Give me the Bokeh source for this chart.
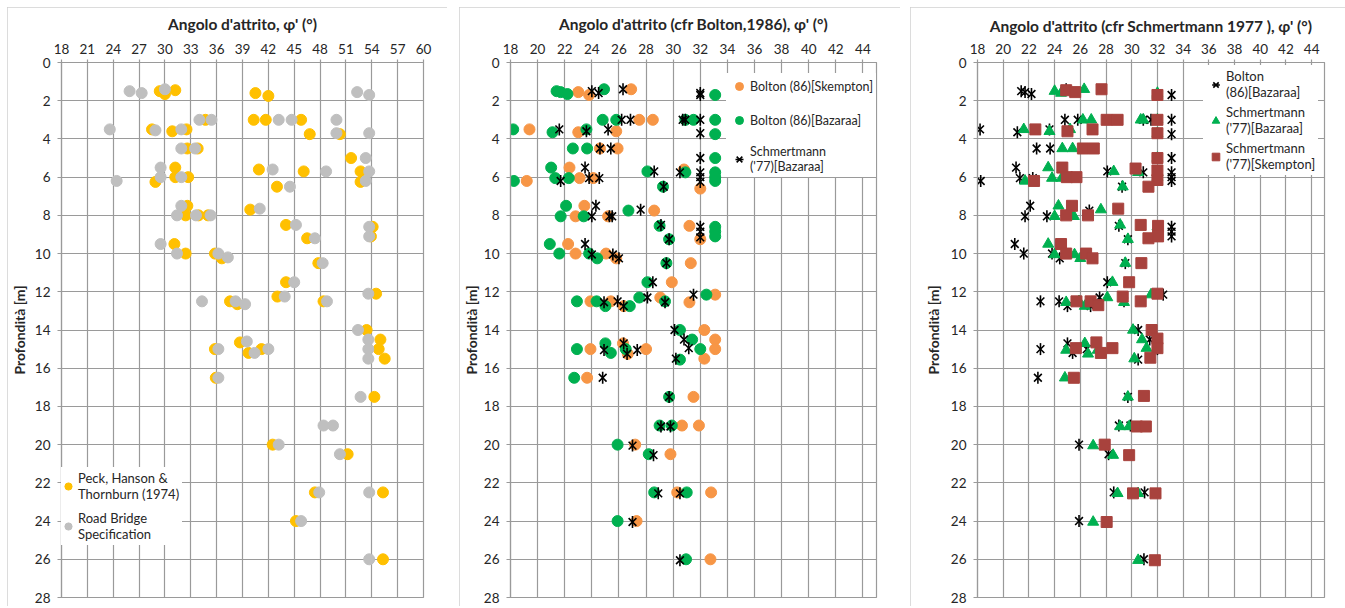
import math
from bokeh.plotting import figure
from bokeh.models import Range1d, FixedTicker, Legend, LegendItem
from bokeh.layouts import row
from bokeh.embed import file_html
from bokeh.resources import INLINE

# ---------------- data: friction angle (deg) vs depth (m) ----------------
depth_ticks = list(range(0, 30, 2))
phi_ticks_1 = list(range(18, 61, 3))
phi_ticks_2 = list(range(18, 45, 2))

peck_phi = [29.4, 30.0, 31.2, 40.5, 42.0,
            34.7, 40.3, 41.7, 45.8,
            28.5, 30.85, 32.5, 46.8, 50.3,
            32.6, 33.8, 51.6,
            31.2, 28.9, 31.2, 32.7, 40.9, 46.1, 52.7, 52.7, 43.0,
            32.6, 39.9, 32.4, 33.9, 35.0,
            44.05, 54.1, 46.5, 53.9, 31.1,
            32.4, 35.8, 36.6, 47.8, 44.05,
            54.5, 37.55, 38.4, 43.05, 48.4,
            53.4, 55.0, 35.8, 38.7, 39.7, 41.2, 54.8, 55.5,
            35.9, 54.3, 42.5, 51.2, 47.4, 55.3, 45.2, 55.3]
peck_z = [1.5, 1.65, 1.45, 1.6, 1.75,
          3.0, 3.0, 3.0, 3.0,
          3.5, 3.6, 3.5, 3.75, 3.75,
          4.5, 4.5, 5.0,
          5.5, 6.25, 6.0, 6.0, 5.6, 5.7, 5.7, 6.25, 6.5,
          7.5, 7.7, 8.0, 8.0, 8.0,
          8.5, 8.6, 9.2, 9.1, 9.5,
          10.0, 10.0, 10.25, 10.5, 11.5,
          12.1, 12.5, 12.65, 12.25, 12.5,
          14.0, 14.5, 15.0, 14.65, 15.2, 15.0, 15.0, 15.5,
          16.5, 17.5, 20.0, 20.5, 22.5, 22.5, 24.0, 26.0]

road_phi = [25.9, 27.3, 30.0, 52.3, 53.7,
            34.0, 35.4, 43.2, 44.7, 49.9,
            23.6, 28.9, 31.9, 49.9, 53.7,
            31.9, 33.5, 53.3,
            29.5, 24.4, 29.5, 31.9, 42.5, 48.7, 53.7, 53.3, 44.5,
            31.9, 41.0, 31.4, 33.6, 35.3,
            45.2, 53.7, 47.4, 53.7, 29.5,
            31.4, 36.2, 37.3, 48.3, 45.0,
            53.6, 34.3, 38.2, 39.3, 43.9, 48.8,
            52.4, 53.6, 36.2, 39.5, 40.4, 42.0, 53.6, 53.6,
            36.2, 52.7, 48.4, 49.5, 43.2, 50.3, 47.9, 53.7, 45.8, 53.7]
road_z = [1.5, 1.6, 1.4, 1.55, 1.7,
          3.0, 3.0, 3.0, 3.0, 3.0,
          3.5, 3.55, 3.5, 3.7, 3.7,
          4.5, 4.5, 5.0,
          5.5, 6.2, 6.0, 6.0, 5.6, 5.7, 5.7, 6.2, 6.5,
          7.5, 7.65, 8.0, 8.0, 8.0,
          8.5, 8.6, 9.2, 9.1, 9.5,
          10.0, 10.0, 10.2, 10.5, 11.5,
          12.1, 12.5, 12.5, 12.65, 12.25, 12.5,
          14.0, 14.5, 15.0, 14.6, 15.2, 15.0, 15.0, 15.5,
          16.5, 17.5, 19.0, 19.0, 20.0, 20.5, 22.5, 22.5, 24.0, 26.0]

# Bolton (86) [Skempton]
bolton_skem_phi = [23.0, 23.8, 26.9, 27.5, 28.5,
                   19.4, 23.0, 25.8, 24.6, 25.9,
                   22.35, 30.8, 19.2, 23.1, 24.1, 32.0,
                   23.45, 28.6, 22.8, 25.2,
                   31.2, 32.0, 22.25, 22.8, 25.05, 25.8,
                   31.3, 29.9, 33.1, 29.05,
                   23.9, 25.4, 26.35, 31.2,
                   32.3, 33.1, 26.3, 23.9, 26.65, 28.0, 33.1, 32.3,
                   23.65, 31.5, 30.65, 31.9, 27.2, 29.8, 30.3, 32.8, 27.3, 32.75]
bolton_skem_z = [1.55, 1.7, 1.4, 3.0, 3.0,
                 3.5, 3.65, 3.6, 4.5, 4.5,
                 5.5, 5.6, 6.2, 6.05, 6.05, 6.6,
                 7.5, 7.75, 8.05, 8.05,
                 8.55, 9.25, 9.5, 10.0, 10.0, 10.25,
                 10.5, 11.5, 12.15, 12.3,
                 12.5, 12.5, 12.75, 12.55,
                 14.0, 14.5, 14.7, 15.0, 15.25, 15.0, 15.0, 15.5,
                 16.5, 17.5, 19.0, 19.0, 20.0, 20.5, 22.5, 22.5, 24.0, 26.0]

# Bolton (86) [Bazaraa]
bolton_baz_phi = [21.4, 21.7, 22.2, 24.9, 33.1,
                  24.8, 25.8, 30.9, 31.5, 33.1,
                  18.2, 21.1, 23.6, 33.1, 22.6, 23.65, 33.1,
                  21.0, 28.1, 30.9, 33.1, 33.1,
                  18.25, 21.3, 22.3, 33.1, 29.25,
                  22.1, 26.7, 21.7, 23.4, 29.0, 33.1, 33.1,
                  29.7, 33.1, 20.9, 21.6, 23.8, 24.4,
                  29.5, 28.1, 32.45, 27.5,
                  22.9, 24.35, 25.0, 26.8, 29.4,
                  30.5, 31.4, 25.0, 22.9, 25.4, 26.5, 32.0, 30.5,
                  22.7, 29.7, 29.0, 29.9, 25.9, 28.2, 28.6, 31.0, 25.9, 30.95]
bolton_baz_z = [1.5, 1.55, 1.65, 1.4, 1.7,
                3.0, 3.0, 3.0, 3.0, 3.0,
                3.5, 3.65, 3.5, 3.75, 4.5, 4.5, 5.0,
                5.5, 5.7, 5.75, 5.75, 6.0,
                6.2, 6.05, 6.05, 6.2, 6.5,
                7.5, 7.75, 8.05, 8.05, 8.55, 8.6, 8.85,
                9.25, 9.1, 9.5, 10.0, 10.0, 10.25,
                10.5, 11.5, 12.15, 12.3,
                12.5, 12.5, 12.75, 12.75, 12.5,
                14.0, 14.5, 14.7, 15.0, 15.2, 15.0, 15.0, 15.55,
                16.5, 17.5, 19.0, 19.0, 20.0, 20.5, 22.5, 22.5, 24.0, 26.0]

# Schmertmann ('77) [Bazaraa]
schm_baz_phi = [24.0, 24.5, 26.3, 32.0, 32.0,
                26.2, 26.85, 30.7, 30.9, 32.0,
                21.6, 23.6, 25.2, 32.0, 24.6, 25.4, 32.0,
                23.5, 28.6, 30.5, 32.0,
                21.7, 23.8, 24.55, 32.0, 32.0, 29.3,
                24.3, 27.6, 24.0, 25.3, 25.5,
                29.1, 32.0, 32.0, 29.7, 32.0, 23.5,
                24.0, 25.55, 26.0, 29.5, 28.5, 31.5, 28.1,
                24.9, 25.9, 26.35, 29.4,
                30.1, 30.8, 26.35, 24.9, 27.35, 31.15, 26.6, 30.2,
                24.8, 29.7, 29.1, 29.8, 27.0, 28.55, 28.9, 30.5, 27.0, 30.5]
schm_baz_z = [1.5, 1.6, 1.4, 1.6, 1.7,
              3.0, 3.0, 3.0, 3.0, 3.0,
              3.5, 3.6, 3.5, 3.7, 4.5, 4.5, 5.0,
              5.5, 5.7, 5.75, 5.75,
              6.2, 6.05, 6.05, 6.0, 6.25, 6.5,
              7.5, 7.7, 8.05, 8.05, 8.05,
              8.5, 8.6, 8.85, 9.25, 9.15, 9.5,
              10.05, 10.05, 10.25, 10.5, 11.5, 12.15, 12.3,
              12.55, 12.5, 12.75, 12.55,
              14.0, 14.5, 14.7, 15.05, 15.05, 14.95, 15.25, 15.5,
              16.5, 17.5, 19.05, 19.05, 20.05, 20.55, 22.55, 22.55, 24.05, 26.05]

# Schmertmann ('77) [Skempton]
schm_skem_phi = [24.9, 25.6, 27.65, 32.0,
                 28.05, 28.9, 32.0,
                 22.5, 25.0, 26.95, 32.0,
                 26.2, 27.05, 32.0,
                 24.6, 30.3, 32.0, 24.95, 25.7, 22.4, 32.0, 31.3,
                 25.35, 28.95, 24.9, 26.6,
                 30.7, 32.05, 31.3, 32.05, 24.5,
                 24.9, 26.45, 26.95, 30.75, 29.8,
                 29.3, 32.0, 25.7, 26.8, 27.4, 30.7,
                 31.55, 32.0, 27.25, 25.65, 27.6, 28.5, 32.0, 31.45,
                 25.5, 30.95, 30.4, 31.1, 27.9, 29.8, 30.1, 31.85, 28.05, 31.8]
schm_skem_z = [1.45, 1.55, 1.4, 1.7,
               3.0, 3.0, 3.0,
               3.5, 3.6, 3.5, 3.7,
               4.5, 4.5, 5.0,
               5.5, 5.55, 5.65, 6.0, 6.0, 6.2, 6.15, 6.5,
               7.5, 7.65, 8.0, 8.0,
               8.5, 8.55, 9.2, 9.1, 9.5,
               10.0, 10.0, 10.25, 10.5, 11.5,
               12.25, 12.1, 12.5, 12.5, 12.7, 12.5,
               14.0, 14.45, 14.65, 14.95, 15.2, 14.95, 14.95, 15.45,
               16.5, 17.45, 19.05, 19.05, 20.0, 20.55, 22.55, 22.55, 24.05, 26.05]

# ---------------- styling ----------------
FONT = "Lato"
GRID = "#9a9a9a"
TEXT = "#262626"
YELLOW = "#FFC000"
GREY = "#BFBFBF"
ORANGE = "#F79646"
GREEN = "#00B050"
BRICK = "#A8423D"


def make_panel(title, x_max, xticks, frame_w, left, right, title_standoff, ylabel_standoff, margin_left):
    p = figure(frame_width=frame_w, frame_height=535,
               min_border_left=left, min_border_right=right,
               min_border_top=55, min_border_bottom=9,
               x_range=Range1d(18, x_max), y_range=Range1d(28, 0),
               x_axis_location="above", output_backend="svg",
               toolbar_location=None, background_fill_color="white",
               border_fill_color="white", margin=(7, 0, 0, margin_left),
               styles={"outline": "1px solid #d0d0d0", "outline-offset": "-1px"})
    p.outline_line_color = GRID
    p.outline_line_width = 1.2

    xa = p.xaxis[0]
    xa.ticker = FixedTicker(ticks=xticks)
    xa.axis_label = title
    xa.axis_label_text_font = FONT
    xa.axis_label_text_font_style = "bold"
    xa.axis_label_text_font_size = "15.5px"
    xa.axis_label_text_color = TEXT
    xa.axis_label_standoff = title_standoff
    ya = p.yaxis[0]
    ya.ticker = FixedTicker(ticks=depth_ticks)
    ya.axis_label = "Profondità [m]"
    ya.axis_label_text_font = FONT
    ya.axis_label_text_font_style = "bold"
    ya.axis_label_text_font_size = "14px"
    ya.axis_label_text_color = TEXT
    ya.axis_label_standoff = ylabel_standoff
    for ax in (xa, ya):
        ax.major_label_text_font = FONT
        ax.major_label_text_font_size = "13.5px"
        ax.major_label_text_color = TEXT
        ax.axis_line_color = GRID
        ax.axis_line_width = 1.2
        ax.major_tick_line_color = GRID
        ax.major_tick_line_width = 1.2
        ax.major_tick_in = 0
        ax.minor_tick_line_color = None
    xa.major_tick_out = 3
    xa.major_label_standoff = 6
    ya.major_tick_out = 4
    ya.major_label_standoff = 7

    p.xgrid.ticker = FixedTicker(ticks=xticks)
    p.ygrid.ticker = FixedTicker(ticks=depth_ticks)
    for g in (p.xgrid[0], p.ygrid[0]):
        g.grid_line_color = GRID
        g.grid_line_width = 1.2
    return p


def style_legend(leg, loc, spacing, glyph, font_size="13px"):
    leg.location = loc
    leg.label_text_font = FONT
    leg.label_text_font_size = font_size
    leg.label_text_color = TEXT
    leg.label_standoff = 1
    leg.glyph_width = glyph
    leg.glyph_height = glyph
    leg.spacing = spacing
    leg.padding = 3
    leg.margin = 0
    leg.border_line_alpha = 0
    leg.background_fill_color = "white"
    leg.background_fill_alpha = 1


def star(p, xs, ys, size):
    # six-armed star marker: an "x" crossed by a vertical stroke
    r1 = p.scatter(xs, ys, marker="x", size=size, line_color="black", line_width=1.6)
    r2 = p.scatter(xs, ys, marker="dash", size=size + 1, angle=math.pi / 2,
                   line_color="black", line_width=1.6)
    return [r1, r2]


# ---------------- panel 1 ----------------
p1 = make_panel("Angolo d'attrito, φ' (°)", 60, phi_ticks_1, 362, 52, 24, 8, 4, 7)
r_peck = p1.scatter(peck_phi, peck_z, marker="circle", size=11,
                    fill_color=YELLOW, line_color=YELLOW)
r_road = p1.scatter(road_phi, road_z, marker="circle", size=11,
                    fill_color=GREY, line_color=GREY)
leg1 = Legend(items=[LegendItem(label="Peck, Hanson &\nThornburn (1974)", renderers=[r_peck]),
                     LegendItem(label="Road Bridge\nSpecification", renderers=[r_road])])
style_legend(leg1, (-5, 52), 8, 18)
p1.add_layout(leg1, "center")

# ---------------- panel 2 ----------------
p2 = make_panel("Angolo d'attrito (cfr Bolton,1986), φ' (°)", 45, phi_ticks_2, 366, 50, 24, 8, 1, 12)
r_bk = p2.scatter(bolton_skem_phi, bolton_skem_z, marker="circle", size=11,
                  fill_color=ORANGE, line_color=ORANGE)
r_bb = p2.scatter(bolton_baz_phi, bolton_baz_z, marker="circle", size=11,
                  fill_color=GREEN, line_color=GREEN)
r_sb = star(p2, schm_baz_phi, schm_baz_z, 11)
leg2 = Legend(items=[LegendItem(label="Bolton (86)[Skempton]", renderers=[r_bk]),
                     LegendItem(label="Bolton (86)[Bazaraa]", renderers=[r_bb]),
                     LegendItem(label="Schmertmann\n('77)[Bazaraa]", renderers=r_sb)])
style_legend(leg2, (216, 420), 14, 20, "12.5px")
p2.add_layout(leg2, "center")

# ---------------- panel 3 ----------------
p3 = make_panel("Angolo d'attrito (cfr Schmertmann 1977 ), φ' (°)", 45, phi_ticks_2, 347, 67, 21, 6, 6, 10)
r_b3 = star(p3, bolton_baz_phi, bolton_baz_z, 11)
r_s3 = p3.scatter(schm_baz_phi, schm_baz_z, marker="triangle", size=11,
                  fill_color=GREEN, line_color=GREEN)
r_m3 = p3.scatter(schm_skem_phi, schm_skem_z, marker="square", size=11,
                  fill_color=BRICK, line_color=BRICK)
leg3 = Legend(items=[LegendItem(label="Bolton\n(86)[Bazaraa]", renderers=r_b3),
                     LegendItem(label="Schmertmann\n('77)[Bazaraa]", renderers=[r_s3]),
                     LegendItem(label="Schmertmann\n('77)[Skempton]", renderers=[r_m3])])
style_legend(leg3, (226, 422), 4, 19)
p3.add_layout(leg3, "center")

layout = row(p1, p2, p3)
open("out.html", "w").write(file_html(layout, INLINE))
